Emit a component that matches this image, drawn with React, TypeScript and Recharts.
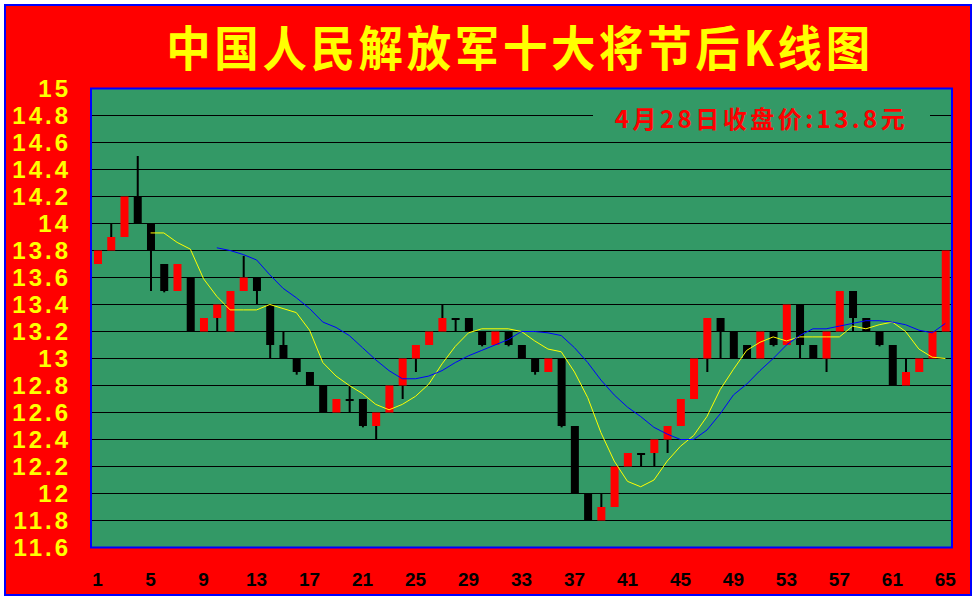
import React from 'react';
import { ComposedChart, Bar, Line, XAxis, YAxis, CartesianGrid, ReferenceArea } from 'recharts';

const days = [1,2,3,4,5,6,7,8,9,10,11,12,13,14,15,16,17,18,19,20,21,22,23,24,25,26,27,28,29,30,31,32,33,34,35,36,37,38,39,40,41,42,43,44,45,46,47,48,49,50,51,52,53,54,55,56,57,58,59,60,61,62,63,64,65];

const openPrices = [13.7,13.8,13.9,14.2,14.0,13.7,13.5,13.6,13.2,13.3,13.2,13.5,13.6,13.4,13.1,13.0,12.9,12.8,12.6,12.7,12.7,12.5,12.6,12.8,13.0,13.1,13.2,13.3,13.3,13.2,13.1,13.2,13.1,13.0,12.9,13.0,12.5,12.0,11.8,11.9,12.2,12.3,12.3,12.4,12.5,12.7,13.0,13.3,13.2,13.1,13.0,13.2,13.1,13.4,13.1,13.0,13.2,13.5,13.3,13.2,13.1,12.8,12.9,13.0,13.2];
const closePrices = [13.8,13.9,14.2,14.0,13.8,13.5,13.7,13.2,13.3,13.4,13.5,13.6,13.5,13.1,13.0,12.9,12.8,12.6,12.7,12.7,12.5,12.6,12.8,13.0,13.1,13.2,13.3,13.3,13.2,13.1,13.2,13.1,13.0,12.9,13.0,12.5,12.0,11.8,11.9,12.2,12.3,12.3,12.4,12.5,12.7,13.0,13.3,13.2,13.0,13.0,13.2,13.1,13.4,13.1,13.0,13.2,13.5,13.3,13.2,13.1,12.8,12.9,13.0,13.2,13.8];
const highPrices = [13.8,14.0,14.2,14.5,14.0,13.7,13.7,13.6,13.3,13.4,13.5,13.76,13.6,13.4,13.2,13.0,12.9,12.8,12.7,12.8,12.7,12.6,12.8,13.0,13.1,13.2,13.4,13.3,13.3,13.2,13.2,13.2,13.1,13.0,13.0,13.0,12.5,12.0,12.0,12.2,12.3,12.3,12.4,12.5,12.7,13.0,13.3,13.3,13.2,13.1,13.2,13.2,13.4,13.4,13.1,13.2,13.5,13.5,13.3,13.2,13.1,13.0,13.0,13.2,13.8];
const lowPrices = [13.7,13.8,13.9,14.0,13.5,13.49,13.5,13.2,13.2,13.2,13.2,13.5,13.4,13.0,13.0,12.88,12.8,12.6,12.6,12.6,12.49,12.4,12.6,12.7,12.9,13.1,13.2,13.2,13.2,13.09,13.1,13.09,13.0,12.88,12.9,12.49,12.0,11.8,11.8,11.9,12.2,12.2,12.2,12.3,12.5,12.7,12.9,13.0,13.0,13.0,13.0,13.09,13.1,13.0,13.0,12.9,13.2,13.2,13.2,13.09,12.8,12.8,12.9,13.0,13.2];

const ma5Values: (number | null)[] = [null,null,null,null,13.93,13.93,13.86,13.81,13.59,13.46,13.36,13.36,13.36,13.40,13.37,13.34,13.21,12.97,12.87,12.80,12.74,12.66,12.62,12.66,12.72,12.81,12.96,13.09,13.19,13.22,13.22,13.22,13.20,13.13,13.07,13.05,12.90,12.71,12.45,12.24,12.09,12.05,12.10,12.24,12.35,12.43,12.57,12.77,12.92,13.06,13.12,13.16,13.13,13.16,13.16,13.16,13.16,13.24,13.22,13.25,13.27,13.20,13.07,13.01,13.00];
const ma10Values: (number | null)[] = [null,null,null,null,null,null,null,null,null,13.82,13.80,13.77,13.73,13.62,13.52,13.45,13.37,13.27,13.23,13.17,13.08,12.99,12.91,12.85,12.85,12.87,12.91,12.97,13.02,13.06,13.10,13.14,13.20,13.20,13.19,13.17,13.08,12.97,12.84,12.73,12.64,12.57,12.49,12.44,12.40,12.40,12.47,12.59,12.73,12.81,12.91,13.00,13.10,13.17,13.22,13.22,13.24,13.26,13.28,13.28,13.27,13.25,13.21,13.19,13.26];

const yTicks = [11.6,11.8,12,12.2,12.4,12.6,12.8,13,13.2,13.4,13.6,13.8,14,14.2,14.4,14.6,14.8,15];
const xTicks = [1,5,9,13,17,21,25,29,33,37,41,45,49,53,57,61,65];

const titleText = '中国人民解放军十大将节后K线图';
const noteText = '4月28日收盘价:13.8元';

const Candle = (props: any) => {
  const { x, y, width, height, payload } = props;
  if (!payload || height == null) return null;
  const { open, close, high, low } = payload;
  const top = Math.min(y, y + height);
  const h = Math.abs(height);
  const ratio = high - low > 0 ? h / (high - low) : 0;
  const yOf = (v: number) => top + (high - v) * ratio;
  const up = close > open;
  const bTop = yOf(Math.max(open, close));
  const bBot = yOf(Math.min(open, close));
  const cx = x + width / 2;
  return (
    <g>
      <line x1={cx} x2={cx} y1={yOf(high)} y2={yOf(low)} stroke="#000" strokeWidth={2} />
      <rect x={x} y={bTop} width={width} height={Math.max(bBot - bTop, 2)} fill={up ? '#FF0000' : '#000000'} />
    </g>
  );
};

const YTick = (props: any) => {
  const { x, y, payload } = props;
  return (
    <text x={x} y={y} dy="0.36em" textAnchor="end" fill="#FFFF00" fontSize={24} fontWeight="bold"
      fontFamily="'Liberation Sans', Arial, sans-serif" letterSpacing={3}>
      {payload.value}
    </text>
  );
};

const XTick = (props: any) => {
  const { x, y, payload } = props;
  return (
    <text x={x} y={y} dy="0.71em" textAnchor="middle" fill="#000" fontSize={19} fontWeight="bold"
      fontFamily="'Liberation Sans', Arial, sans-serif">
      {payload.value}
    </text>
  );
};

export default function App() {
  const data = days.map((d, i) => ({
    day: d,
    open: openPrices[i],
    close: closePrices[i],
    high: highPrices[i],
    low: lowPrices[i],
    range: [lowPrices[i], highPrices[i]],
    ma5: ma5Values[i],
    ma10: ma10Values[i],
  }));

  return (
    <div style={{ position: 'absolute', left: 0, top: 0, width: 977, height: 600, background: '#fff', overflow: 'hidden' }}>
      <div style={{ position: 'absolute', left: 4, top: 4, width: 968, height: 592, boxSizing: 'border-box', border: '2px solid #0000FF', background: '#FF0000' }} />
      <div style={{ position: 'absolute', left: 0, top: 0 }}>
        <ComposedChart width={977} height={600} data={data} margin={{ top: 88.5, right: 25, bottom: 22.5, left: 11 }}>
          <CartesianGrid vertical={false} stroke="#000" strokeWidth={1} fill="#339966" fillOpacity={1} />
          <XAxis dataKey="day" type="category" ticks={xTicks} interval={0} height={30}
            axisLine={false} tickLine={false} tickMargin={19} tick={<XTick />} />
          <YAxis type="number" domain={[11.6, 15]} ticks={yTicks} interval={0} width={80}
            allowDataOverflow axisLine={false} tickLine={false} tickMargin={14} tick={<YTick />} />
          <Bar dataKey="range" barSize={8} isAnimationActive={false} shape={(p: any) => <Candle {...p} />} />
          <Line type="linear" dataKey="ma5" stroke="#FFFF00" strokeWidth={1} dot={false} activeDot={false} isAnimationActive={false} />
          <Line type="linear" dataKey="ma10" stroke="#0000FF" strokeWidth={1} dot={false} activeDot={false} isAnimationActive={false} />
          <ReferenceArea y1={11.6} y2={15} fill="none" stroke="#0000FF" strokeWidth={2} ifOverflow="visible" />
        </ComposedChart>
      </div>
      <div style={{ position: 'absolute', left: 0, top: 21, width: 1040, textAlign: 'center', color: '#FFFF00',
        fontFamily: "'Noto Sans CJK SC', sans-serif", fontWeight: 700, fontSize: 48, lineHeight: '48px', letterSpacing: 4,
        whiteSpace: 'nowrap', transform: 'scaleX(0.925)', transformOrigin: '520px 0' }}>
        {titleText}
      </div>
      <div style={{ position: 'absolute', left: 593, top: 102, width: 337, height: 32, background: '#339966', textAlign: 'center',
        color: '#FF0000', fontFamily: "'Noto Sans CJK SC', sans-serif", fontWeight: 700, fontSize: 24, lineHeight: '32px', letterSpacing: 3.5, whiteSpace: 'nowrap' }}>
        {noteText}
      </div>
    </div>
  );
}
